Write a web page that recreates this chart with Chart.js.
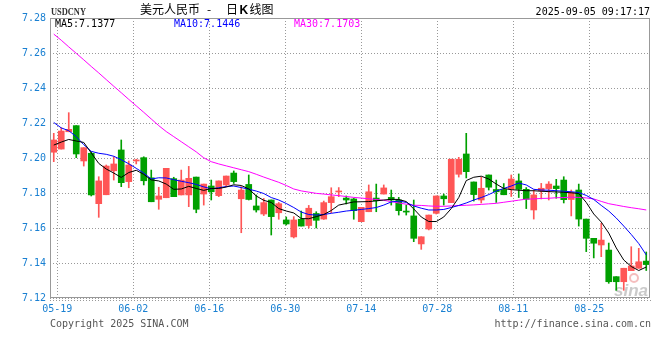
<!DOCTYPE html>
<html>
<head>
<meta charset="utf-8">
<title>USDCNY 日K线图</title>
<script src="https://cdn.jsdelivr.net/npm/chart.js"></script>
<style>
    html, body { margin: 0; padding: 0; background: #fff; }
    #kline { display: block; }
</style>
</head>
<body>
<canvas id="kline" width="660" height="360"></canvas>
<script>
// Trading days (weekdays 05-19 .. 09-05)
const dates = [
    '05-19', '05-20', '05-21', '05-22', '05-23', '05-26', '05-27', '05-28', '05-29', '05-30',
    '06-02', '06-03', '06-04', '06-05', '06-06', '06-09', '06-10', '06-11', '06-12', '06-13',
    '06-16', '06-17', '06-18', '06-19', '06-20', '06-23', '06-24', '06-25', '06-26', '06-27',
    '06-30', '07-01', '07-02', '07-03', '07-04', '07-07', '07-08', '07-09', '07-10', '07-11',
    '07-14', '07-15', '07-16', '07-17', '07-18', '07-21', '07-22', '07-23', '07-24', '07-25',
    '07-28', '07-29', '07-30', '07-31', '08-01', '08-04', '08-05', '08-06', '08-07', '08-08',
    '08-11', '08-12', '08-13', '08-14', '08-15', '08-18', '08-19', '08-20', '08-21', '08-22',
    '08-25', '08-26', '08-27', '08-28', '08-29', '09-01', '09-02', '09-03', '09-04', '09-05'
];

const opens = [
    7.2033, 7.2051, 7.2150, 7.2185, 7.1983, 7.2027, 7.1739, 7.1790, 7.1927, 7.2046,
    7.1865, 7.1983, 7.2002, 7.1887, 7.1764, 7.1773, 7.1882, 7.1789, 7.1789, 7.1891,
    7.1794, 7.1840, 7.1785, 7.1846, 7.1914, 7.1767, 7.1849, 7.1726, 7.1680, 7.1760,
    7.1687, 7.1646, 7.1549, 7.1650, 7.1614, 7.1683, 7.1651, 7.1745, 7.1806, 7.1771,
    7.1766, 7.1636, 7.1693, 7.1771, 7.1794, 7.1775, 7.1760, 7.1694, 7.1669, 7.1509,
    7.1594, 7.1684, 7.1783, 7.1745, 7.1907, 7.2023, 7.1863, 7.1760, 7.1903, 7.1820,
    7.1820, 7.1823, 7.1869, 7.1821, 7.1703, 7.1813, 7.1825, 7.1840, 7.1874, 7.1763,
    7.1817, 7.1651, 7.1541, 7.1503, 7.1474, 7.1322, 7.1293, 7.1356, 7.1370, 7.1411
];

const closes = [
    7.2103, 7.2154, 7.2164, 7.2023, 7.2059, 7.1789, 7.1869, 7.1954, 7.1966, 7.1859,
    7.1960, 7.1989, 7.1870, 7.1750, 7.1783, 7.1941, 7.1779, 7.1874, 7.1884, 7.1707,
    7.1851, 7.1807, 7.1869, 7.1897, 7.1865, 7.1817, 7.1763, 7.1703, 7.1745, 7.1665,
    7.1739, 7.1623, 7.1646, 7.1611, 7.1713, 7.1644, 7.1745, 7.1779, 7.1809, 7.1760,
    7.1699, 7.1718, 7.1807, 7.1756, 7.1829, 7.1760, 7.1699, 7.1691, 7.1541, 7.1550,
    7.1674, 7.1783, 7.1767, 7.1993, 7.1993, 7.1922, 7.1791, 7.1827, 7.1833, 7.1807,
    7.1790, 7.1880, 7.1821, 7.1764, 7.1789, 7.1827, 7.1851, 7.1825, 7.1762, 7.1803,
    7.1651, 7.1541, 7.1513, 7.1531, 7.1293, 7.1293, 7.1370, 7.1383, 7.1407, 7.1391
];

const highs = [
    7.2141, 7.2173, 7.2259, 7.2185, 7.2059, 7.2036, 7.1893, 7.1960, 7.2007, 7.2103,
    7.1983, 7.1993, 7.2007, 7.1931, 7.1833, 7.1941, 7.1890, 7.1931, 7.1952, 7.1891,
    7.1851, 7.1874, 7.1869, 7.1897, 7.1926, 7.1837, 7.1903, 7.1789, 7.1769, 7.1760,
    7.1746, 7.1663, 7.1665, 7.1697, 7.1729, 7.1693, 7.1754, 7.1830, 7.1831, 7.1783,
    7.1770, 7.1718, 7.1846, 7.1851, 7.1846, 7.1817, 7.1775, 7.1731, 7.1760, 7.1550,
    7.1674, 7.1783, 7.1794, 7.1993, 7.2004, 7.2141, 7.1863, 7.1890, 7.1903, 7.1874,
    7.1854, 7.1903, 7.1909, 7.1831, 7.1817, 7.1855, 7.1865, 7.1878, 7.1893, 7.1817,
    7.1851, 7.1651, 7.1541, 7.1627, 7.1514, 7.1322, 7.1370, 7.1493, 7.1484, 7.1463
];

const lows = [
    7.1979, 7.2051, 7.2150, 7.2002, 7.1954, 7.1783, 7.1661, 7.1790, 7.1874, 7.1836,
    7.1830, 7.1966, 7.1846, 7.1750, 7.1707, 7.1773, 7.1779, 7.1789, 7.1722, 7.1687,
    7.1731, 7.1760, 7.1779, 7.1836, 7.1855, 7.1573, 7.1760, 7.1691, 7.1671, 7.1560,
    7.1650, 7.1617, 7.1543, 7.1611, 7.1600, 7.1600, 7.1649, 7.1687, 7.1779, 7.1737,
    7.1650, 7.1636, 7.1693, 7.1693, 7.1794, 7.1731, 7.1674, 7.1674, 7.1522, 7.1478,
    7.1589, 7.1680, 7.1731, 7.1745, 7.1891, 7.1886, 7.1754, 7.1743, 7.1817, 7.1746,
    7.1790, 7.1780, 7.1774, 7.1711, 7.1651, 7.1766, 7.1760, 7.1770, 7.1743, 7.1669,
    7.1611, 7.1465, 7.1429, 7.1436, 7.1284, 7.1244, 7.1244, 7.1356, 7.1370, 7.1357
];

// Moving averages
const ma5 = [
    7.2074, 7.2091, 7.2106, 7.2097, 7.2089, 7.2029, 7.1969, 7.1937, 7.1914, 7.1889,
    7.1917, 7.1930, 7.1906, 7.1875, 7.1869, 7.1851, 7.1821, 7.1823, 7.1838, 7.1826,
    7.1815, 7.1826, 7.1826, 7.1834, 7.1847, 7.1843, 7.1823, 7.1783, 7.1758, 7.1746,
    7.1711, 7.1697, 7.1686, 7.1654, 7.1653, 7.1665, 7.1677, 7.1700, 7.1731, 7.1740,
    7.1749, 7.1750, 7.1751, 7.1755, 7.1760, 7.1764, 7.1763, 7.1751, 7.1709, 7.1663,
    7.1637, 7.1637, 7.1663, 7.1711, 7.1774, 7.1871, 7.1890, 7.1896, 7.1880, 7.1851,
    7.1826, 7.1819, 7.1816, 7.1813, 7.1813, 7.1810, 7.1808, 7.1806, 7.1804, 7.1801,
    7.1797, 7.1746, 7.1680, 7.1634, 7.1571, 7.1486, 7.1417, 7.1380, 7.1357, 7.1377
];

const ma10 = [
    7.2203, 7.2172, 7.2156, 7.2122, 7.2076, 7.2038, 7.2027, 7.2021, 7.2010, 7.1990,
    7.1967, 7.1941, 7.1914, 7.1880, 7.1887, 7.1886, 7.1876, 7.1867, 7.1859, 7.1849,
    7.1835, 7.1824, 7.1830, 7.1837, 7.1840, 7.1831, 7.1822, 7.1811, 7.1797, 7.1774,
    7.1760, 7.1740, 7.1717, 7.1691, 7.1677, 7.1674, 7.1677, 7.1684, 7.1690, 7.1697,
    7.1701, 7.1706, 7.1711, 7.1717, 7.1731, 7.1749, 7.1754, 7.1746, 7.1726, 7.1713,
    7.1703, 7.1703, 7.1706, 7.1717, 7.1729, 7.1743, 7.1760, 7.1774, 7.1791, 7.1811,
    7.1826, 7.1840, 7.1857, 7.1846, 7.1821, 7.1817, 7.1816, 7.1813, 7.1810, 7.1807,
    7.1803, 7.1786, 7.1763, 7.1729, 7.1697, 7.1657, 7.1611, 7.1563, 7.1511, 7.1446
];

const ma30 = [
    7.2708, 7.2673, 7.2635, 7.2598, 7.2561, 7.2523, 7.2486, 7.2448, 7.2410, 7.2373,
    7.2335, 7.2298, 7.2261, 7.2223, 7.2185, 7.2151, 7.2122, 7.2093, 7.2064, 7.2035,
    7.2001, 7.1979, 7.1966, 7.1955, 7.1944, 7.1933, 7.1922, 7.1907, 7.1891, 7.1876,
    7.1861, 7.1843, 7.1823, 7.1812, 7.1805, 7.1798, 7.1794, 7.1789, 7.1785, 7.1780,
    7.1775, 7.1771, 7.1767, 7.1763, 7.1758, 7.1751, 7.1743, 7.1736, 7.1730, 7.1729,
    7.1726, 7.1724, 7.1724, 7.1726, 7.1728, 7.1730, 7.1732, 7.1735, 7.1738, 7.1741,
    7.1747, 7.1753, 7.1759, 7.1765, 7.1766, 7.1769, 7.1770, 7.1773, 7.1774, 7.1776,
    7.1775, 7.1772, 7.1766, 7.1752, 7.1739, 7.1731, 7.1723, 7.1716, 7.1710, 7.1703
];

const tickLabels = ['05-19', '06-02', '06-16', '06-30', '07-14', '07-28', '08-11', '08-25'];
const yTicks = [7.12, 7.14, 7.16, 7.18, 7.20, 7.22, 7.24, 7.26, 7.28];

const RED = '#ff5656';
const GREEN = '#00a000';
const AXIS_BLUE = '#1a80d2';
const GRID = '#999';
const GRID_DASH = [1, 2];
const MONO = '"DejaVu Sans Mono", monospace';

// rise = red, fall = green
const candleColors = closes.map((c, i) => (c >= opens[i] ? RED : GREEN));

// frame, titles, watermark
const decorations = {
    id: 'decorations',
    beforeDraw(chart) {
        const ctx = chart.ctx;
        ctx.save();
        ctx.fillStyle = '#fff';
        ctx.fillRect(0, 0, chart.width, chart.height);
        ctx.restore();
    },
    beforeDatasetsDraw(chart) {
        const ctx = chart.ctx;
        const a = chart.chartArea;
        ctx.save();
        // sina watermark
        ctx.strokeStyle = 'rgba(225, 70, 70, 0.35)';
        ctx.lineWidth = 2;
        ctx.beginPath();
        ctx.arc(a.right - 16, a.bottom - 20, 4, 0, Math.PI * 2);
        ctx.stroke();
        ctx.fillStyle = 'rgba(150, 150, 150, 0.5)';
        ctx.font = 'italic bold 17px "Liberation Sans", sans-serif';
        ctx.textAlign = 'right';
        ctx.fillText('sina', a.right - 2, a.bottom - 2);
        ctx.restore();
    },
    afterDraw(chart) {
        const ctx = chart.ctx;
        const a = chart.chartArea;
        ctx.save();

        // frame
        ctx.strokeStyle = '#999';
        ctx.lineWidth = 1;
        ctx.strokeRect(a.left + 0.5, a.top + 0.5, a.right - a.left - 1, a.bottom - a.top - 1);
        ctx.setLineDash(GRID_DASH);
        ctx.strokeStyle = GRID;
        ctx.beginPath();
        ctx.moveTo(a.left, a.bottom + 2.5);
        ctx.lineTo(a.right + 1, a.bottom + 2.5);
        ctx.stroke();
        ctx.setLineDash([]);

        ctx.textBaseline = 'alphabetic';

        // symbol
        ctx.fillStyle = '#333';
        ctx.font = 'bold 10px "Liberation Serif", serif';
        ctx.textAlign = 'left';
        ctx.fillText('USDCNY', 51, 15, 35);

        // title
        ctx.fillStyle = '#000';
        ctx.font = '12px "Noto Sans CJK SC", sans-serif';
        ctx.fillText('美元人民币', 140, 14);
        ctx.fillText('-', 207, 14);
        ctx.fillText('日', 226, 14);
        ctx.font = 'bold 12px "Liberation Sans", sans-serif';
        ctx.fillText('K', 239.5, 14);
        ctx.font = '12px "Noto Sans CJK SC", sans-serif';
        ctx.fillText('线图', 249.5, 14);

        // timestamp
        ctx.font = '10px ' + MONO;
        ctx.textAlign = 'right';
        ctx.fillText('2025-09-05 09:17:17', 650, 15);

        // MA legend
        ctx.textAlign = 'left';
        ctx.fillStyle = '#000';
        ctx.fillText('MA5:' + ma5[ma5.length - 1].toFixed(4), 55, 27);
        ctx.fillStyle = '#0000ff';
        ctx.fillText('MA10:' + ma10[ma10.length - 1].toFixed(4), 174, 27);
        ctx.fillStyle = '#ff00ff';
        ctx.fillText('MA30:' + ma30[ma30.length - 1].toFixed(4), 294, 27);

        // footer
        ctx.fillStyle = '#555';
        ctx.fillText('Copyright 2025 SINA.COM', 50, 327);
        ctx.textAlign = 'right';
        ctx.fillText('http://finance.sina.com.cn', 651, 327);

        ctx.restore();
    }
};

const maLine = (label, data, color) => ({
    type: 'line',
    label: label,
    data: data,
    borderColor: color,
    borderWidth: 1,
    pointRadius: 0,
    tension: 0,
    order: 0,
    xAxisID: 'x',
    yAxisID: 'y'
});

new Chart(document.getElementById('kline').getContext('2d'), {
    type: 'bar',
    data: {
        labels: dates,
        datasets: [
            maLine('MA5', ma5, '#000000'),
            maLine('MA10', ma10, '#0000ff'),
            maLine('MA30', ma30, '#ff00ff'),
            {
                label: 'body',
                data: opens.map((o, i) => [o, closes[i]]),
                backgroundColor: candleColors,
                borderWidth: 0,
                barThickness: 6,
                minBarLength: 1,
                grouped: false,
                order: 1,
                xAxisID: 'x',
                yAxisID: 'y'
            },
            {
                label: 'wick',
                data: lows.map((l, i) => [l, highs[i]]),
                backgroundColor: candleColors,
                borderWidth: 0,
                barThickness: 1,
                grouped: false,
                order: 2,
                xAxisID: 'x',
                yAxisID: 'y'
            }
        ]
    },
    options: {
        responsive: false,
        animation: false,
        devicePixelRatio: 1,
        events: [],
        layout: { padding: { top: 18, right: 10, left: 0, bottom: 0 } },
        plugins: {
            legend: { display: false },
            tooltip: { enabled: false }
        },
        scales: {
            x: {
                type: 'category',
                offset: true,
                display: false
            },
            xd: {
                type: 'linear',
                axis: 'x',
                position: 'bottom',
                offset: false,
                min: -0.096,
                max: 7.799,
                afterBuildTicks: (s) => { s.ticks = tickLabels.map((_, k) => ({ value: k })); },
                afterFit: (s) => { s.height = 62; },
                ticks: {
                    color: AXIS_BLUE,
                    font: { family: MONO, size: 10 },
                    padding: 5,
                    maxRotation: 0,
                    autoSkip: false,
                    callback: (v) => tickLabels[v]
                },
                grid: { color: GRID, drawTicks: false, offset: false },
                border: { display: false, dash: GRID_DASH }
            },
            y: {
                type: 'linear',
                position: 'left',
                min: 7.12,
                max: 7.28,
                afterBuildTicks: (s) => { s.ticks = yTicks.map((v) => ({ value: v })); },
                afterFit: (s) => { s.width = 50; },
                ticks: {
                    color: AXIS_BLUE,
                    font: { family: MONO, size: 10 },
                    padding: 4,
                    callback: (v) => Number(v).toFixed(2)
                },
                grid: { color: GRID, drawTicks: false },
                border: { display: false, dash: GRID_DASH }
            }
        }
    },
    plugins: [decorations]
});
</script>
</body>
</html>
